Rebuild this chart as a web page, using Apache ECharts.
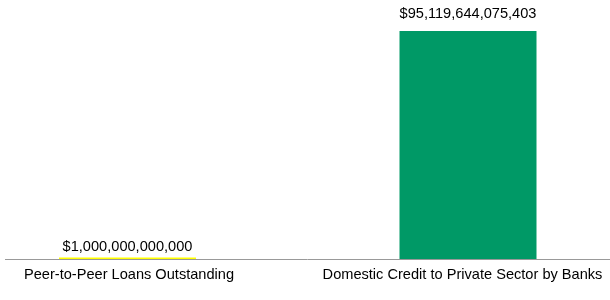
<!DOCTYPE html>
<html><head><meta charset="utf-8">
<script src="https://cdn.jsdelivr.net/npm/echarts@6/dist/echarts.min.js"></script>
<style>html,body{margin:0;padding:0;background:#fff}#c{width:610px;height:300px}</style>
</head><body><div id="c"></div>
<script>
const categories = ["Peer-to-Peer Loans Outstanding", "Domestic Credit to Private Sector by Banks"];
const values = [1000000000000, 95119644075403];
const colors = ["#ffff00", "#009966"];
function fmt(v){ return "$" + Math.round(v).toLocaleString("en-US"); }
const FONT = 'Liberation Sans, Arial, sans-serif';
const labelGap = [3, 10];
const chart = echarts.init(document.getElementById('c'), null, {renderer:'canvas'});
chart.setOption({
  animation:false,
  grid:{left:127.5, right:142, top:31, bottom:40, containLabel:false},
  xAxis:{type:'category', boundaryGap:false,
    data:[
      {value:categories[0], textStyle:{padding:[0,0,0,3]}},
      {value:categories[1], textStyle:{padding:[0,11,0,0]}}
    ],
    axisLine:{show:false},
    axisTick:{show:false},
    axisLabel:{color:'#000', fontFamily:FONT, fontSize:14.6, margin:7, interval:0}},
  yAxis:{type:'value', min:0, max:'dataMax', show:false, splitLine:{show:false}},
  graphic:[{type:'line', shape:{x1:5, y1:259.5, x2:610, y2:259.5}, style:{stroke:'#999', lineWidth:1}, z:10}],
  series:[{type:'bar', barWidth:137, clip:false,
    data: values.map((v,i)=>({value:v, itemStyle:{color:colors[i]}, label:{distance:labelGap[i]}})),
    label:{show:true, position:'top', color:'#000', fontFamily:FONT, fontSize:14.6,
      formatter:p=>fmt(p.value)}}]
});
</script></body></html>
